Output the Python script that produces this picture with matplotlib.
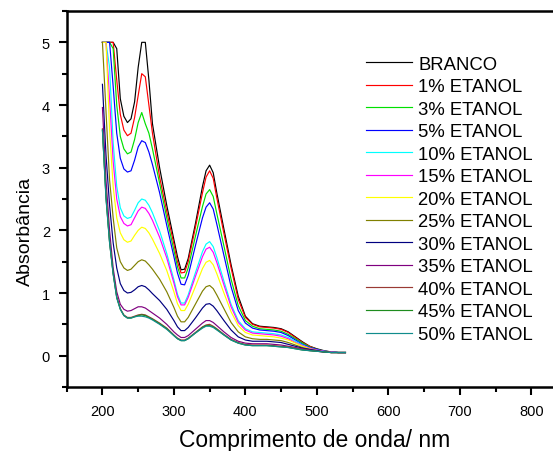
import matplotlib
matplotlib.use("Agg")
import matplotlib.pyplot as plt
from matplotlib.ticker import MultipleLocator

plt.rcParams['font.family'] = ['Liberation Sans', 'DejaVu Sans']

wavelength = [200, 205, 210, 215, 220, 225, 230, 235, 240, 245, 250, 255, 260, 265, 270,
              280, 290, 300, 305, 310, 315, 320, 330, 340, 345, 350, 355, 360, 370, 380,
              390, 400, 410, 420, 430, 440, 450, 460, 470, 480, 490, 500, 510, 520, 530, 540]

branco = [5.0, 5.0, 5.0, 5.0, 4.9, 4.1, 3.82, 3.72, 3.78, 4.05, 4.6, 5.0, 5.0, 4.4, 3.7,
          3.0, 2.4, 1.85, 1.58, 1.37, 1.38, 1.55, 2.1, 2.7, 2.95, 3.04, 2.92, 2.6, 2.02, 1.45,
          0.95, 0.63, 0.51, 0.47, 0.46, 0.45, 0.43, 0.38, 0.3, 0.22, 0.15, 0.11, 0.08, 0.06, 0.05, 0.05]
et1 = [5.0, 5.0, 5.0, 5.0, 4.4, 3.85, 3.6, 3.51, 3.55, 3.8, 4.15, 4.5, 4.45, 4.0, 3.55,
       2.85, 2.3, 1.78, 1.5, 1.32, 1.33, 1.5, 2.04, 2.6, 2.85, 2.95, 2.83, 2.52, 1.95, 1.4,
       0.9, 0.61, 0.5, 0.46, 0.45, 0.44, 0.42, 0.37, 0.29, 0.21, 0.15, 0.1, 0.07, 0.06, 0.05, 0.05]
et3 = [5.0, 5.0, 5.0, 4.9, 4.0, 3.5, 3.3, 3.22, 3.25, 3.45, 3.72, 3.88, 3.7, 3.55, 3.3,
       2.75, 2.2, 1.68, 1.42, 1.24, 1.24, 1.4, 1.9, 2.38, 2.58, 2.65, 2.54, 2.27, 1.75, 1.22,
       0.8, 0.56, 0.47, 0.43, 0.42, 0.41, 0.39, 0.34, 0.27, 0.2, 0.14, 0.1, 0.07, 0.06, 0.05, 0.05]
et5 = [5.0, 5.0, 5.0, 4.3, 3.55, 3.15, 2.98, 2.93, 2.95, 3.12, 3.33, 3.43, 3.4, 3.25, 3.05,
       2.6, 2.08, 1.58, 1.32, 1.14, 1.13, 1.28, 1.75, 2.2, 2.37, 2.44, 2.34, 2.1, 1.6, 1.1,
       0.72, 0.52, 0.44, 0.41, 0.4, 0.39, 0.37, 0.32, 0.25, 0.18, 0.13, 0.1, 0.07, 0.06, 0.05, 0.05]
et10 = [5.0, 5.0, 4.6, 3.4, 2.7, 2.36, 2.23, 2.19, 2.21, 2.32, 2.44, 2.5, 2.48, 2.4, 2.28,
        1.99, 1.63, 1.21, 0.98, 0.84, 0.84, 0.97, 1.32, 1.66, 1.78, 1.82, 1.74, 1.57, 1.19, 0.82,
        0.56, 0.43, 0.38, 0.37, 0.36, 0.35, 0.33, 0.29, 0.23, 0.17, 0.12, 0.09, 0.07, 0.06, 0.05, 0.05]
et15 = [5.0, 5.0, 4.1, 3.1, 2.5, 2.22, 2.11, 2.07, 2.09, 2.2, 2.31, 2.37, 2.35, 2.27, 2.16,
        1.89, 1.56, 1.16, 0.94, 0.81, 0.81, 0.93, 1.26, 1.58, 1.7, 1.73, 1.65, 1.49, 1.13, 0.78,
        0.53, 0.41, 0.36, 0.35, 0.34, 0.33, 0.31, 0.27, 0.21, 0.16, 0.12, 0.09, 0.07, 0.06, 0.05, 0.05]
et20 = [5.0, 5.0, 3.6, 2.7, 2.2, 1.96, 1.85, 1.81, 1.83, 1.92, 2.0, 2.05, 2.03, 1.96, 1.86,
        1.63, 1.36, 1.02, 0.83, 0.72, 0.72, 0.82, 1.1, 1.39, 1.49, 1.52, 1.45, 1.31, 1.0, 0.7,
        0.48, 0.37, 0.33, 0.32, 0.31, 0.3, 0.28, 0.25, 0.2, 0.15, 0.11, 0.08, 0.06, 0.05, 0.05, 0.05]
et25 = [5.0, 3.9, 2.8, 2.2, 1.72, 1.5, 1.4, 1.36, 1.38, 1.44, 1.5, 1.53, 1.51, 1.45, 1.38,
        1.22, 1.02, 0.77, 0.63, 0.54, 0.54, 0.61, 0.82, 1.03, 1.1, 1.12, 1.07, 0.97, 0.75, 0.53,
        0.38, 0.3, 0.27, 0.26, 0.26, 0.25, 0.24, 0.21, 0.17, 0.13, 0.1, 0.08, 0.06, 0.05, 0.05, 0.05]
et30 = [4.33, 3.2, 2.4, 1.8, 1.4, 1.15, 1.04, 1.0, 1.01, 1.05, 1.1, 1.12, 1.1, 1.05, 0.99,
        0.88, 0.74, 0.56, 0.46, 0.4, 0.4, 0.45, 0.6, 0.76, 0.82, 0.83, 0.79, 0.72, 0.56, 0.41,
        0.3, 0.25, 0.23, 0.23, 0.23, 0.22, 0.21, 0.18, 0.15, 0.12, 0.1, 0.08, 0.06, 0.05, 0.05, 0.05]
et35 = [3.96, 2.8, 2.0, 1.4, 1.02, 0.82, 0.74, 0.71, 0.72, 0.75, 0.78, 0.78, 0.76, 0.72, 0.68,
        0.6, 0.5, 0.38, 0.33, 0.29, 0.29, 0.32, 0.42, 0.52, 0.56, 0.56, 0.53, 0.48, 0.38, 0.29,
        0.23, 0.2, 0.19, 0.19, 0.19, 0.18, 0.17, 0.15, 0.13, 0.11, 0.09, 0.07, 0.06, 0.05, 0.05, 0.05]
et40 = [3.62, 2.55, 1.82, 1.32, 0.94, 0.75, 0.65, 0.61, 0.61, 0.63, 0.65, 0.66, 0.65, 0.62, 0.59,
        0.52, 0.44, 0.33, 0.28, 0.25, 0.25, 0.28, 0.37, 0.46, 0.49, 0.5, 0.47, 0.43, 0.34, 0.26,
        0.21, 0.18, 0.17, 0.17, 0.17, 0.16, 0.15, 0.14, 0.12, 0.1, 0.08, 0.07, 0.06, 0.05, 0.05, 0.05]
et45 = [3.6, 2.52, 1.81, 1.31, 0.93, 0.74, 0.64, 0.6, 0.6, 0.62, 0.64, 0.65, 0.64, 0.61, 0.58,
        0.51, 0.43, 0.32, 0.27, 0.24, 0.24, 0.27, 0.36, 0.45, 0.48, 0.48, 0.46, 0.42, 0.33, 0.25,
        0.2, 0.17, 0.16, 0.16, 0.16, 0.15, 0.14, 0.13, 0.11, 0.09, 0.08, 0.07, 0.06, 0.05, 0.05, 0.05]
et50 = [3.6, 2.5, 1.8, 1.3, 0.92, 0.74, 0.64, 0.6, 0.6, 0.62, 0.63, 0.63, 0.62, 0.6, 0.57,
        0.5, 0.42, 0.32, 0.27, 0.24, 0.24, 0.27, 0.36, 0.44, 0.47, 0.47, 0.45, 0.41, 0.33, 0.25,
        0.2, 0.17, 0.16, 0.16, 0.16, 0.15, 0.14, 0.13, 0.11, 0.09, 0.08, 0.07, 0.06, 0.05, 0.05, 0.05]

labels = ['BRANCO', '1% ETANOL', '3% ETANOL', '5% ETANOL', '10% ETANOL', '15% ETANOL',
          '20% ETANOL', '25% ETANOL', '30% ETANOL', '35% ETANOL', '40% ETANOL',
          '45% ETANOL', '50% ETANOL']
series = [branco, et1, et3, et5, et10, et15, et20, et25, et30, et35, et40, et45, et50]
colors = ['#000000', '#FF0000', '#00E000', '#0000FF', '#00FFFF', '#FF00FF', '#FFFF00',
          '#808000', '#000080', '#800080', '#9A3A34', '#1E8C1E', '#108C8C']

x_ticks = [200, 300, 400, 500, 600, 700, 800]
y_ticks = [0, 1, 2, 3, 4, 5]

W, H = 553, 452
fig = plt.figure(figsize=(W / 100, H / 100), dpi=100)
ax = fig.add_axes([66.7 / W, 64 / H, 536 / W, 376 / H])

for s, lab, c in zip(series, labels, colors):
    ax.plot(wavelength, s, color=c, lw=0.85, label=lab)

ax.set_xlim(150, 900)
ax.set_ylim(-0.5, 5.5)
ax.set_xticks(x_ticks)
ax.set_yticks(y_ticks)
ax.xaxis.set_minor_locator(MultipleLocator(50))
ax.yaxis.set_minor_locator(MultipleLocator(0.5))
ax.tick_params(which='major', direction='out', length=6, width=1.5, labelsize=10.5, pad=6)
ax.tick_params(which='minor', direction='out', length=3.5, width=1.5)
for sp in ax.spines.values():
    sp.set_linewidth(1.8)
ax.spines['right'].set_visible(False)

ax.set_xlabel('Comprimento de onda/ nm', fontsize=16.5)
ax.xaxis.set_label_coords((315 - 66.7) / 536, -41 / 376)
ax.set_ylabel('Absorbância', fontsize=14)
ax.yaxis.set_label_coords((34 - 66.7) / 536, (388 - 231) / 376)

leg = ax.legend(loc='upper left', bbox_to_anchor=(366 / W, 1 - 56.5 / H),
                bbox_transform=fig.transFigure, frameon=False, fontsize=13.3,
                handlelength=2.5, handletextpad=0.33, labelspacing=0.30,
                borderpad=0, borderaxespad=0)

fig.savefig('out.png', dpi=100)
